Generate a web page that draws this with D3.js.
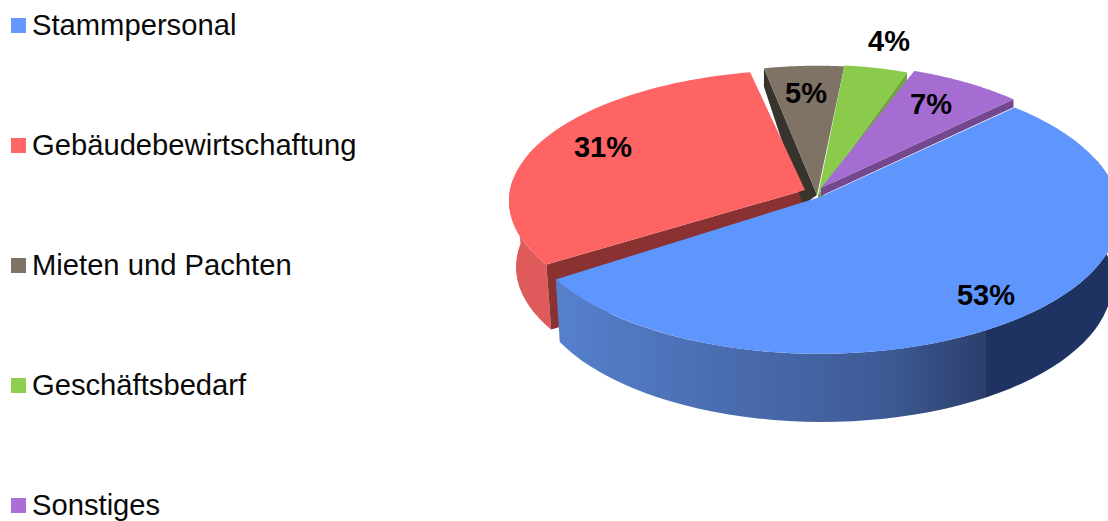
<!DOCTYPE html>
<html><head><meta charset="utf-8">
<script src="https://cdn.jsdelivr.net/npm/d3@7"></script>
<style>html,body{margin:0;padding:0;background:#fff;overflow:hidden}svg{display:block}text{font-family:"Liberation Sans",Arial,sans-serif;fill:#0a0a0a}</style>
</head><body><svg id="c" width="1108" height="521"></svg>
<script>
const categories = ["Stammpersonal","Gebäudebewirtschaftung","Mieten und Pachten","Geschäftsbedarf","Sonstiges"];
const values = [53,31,5,4,7];
const labels = ["53%","31%","5%","4%","7%"];

const topColors  = ["#5f96fd","#ff6464","#7f7365","#8acb4b","#a56dd2"];
const legendColors = ["#6699ff","#ff6666","#7f7365","#8fcf50","#a96fd6"];
const wallColors = ["url(#bw)","#df5b5b","#37332d","#6fa53c","#74488f"];
const faceColors = ["#4f78c8","#8a3232","#37332d","#6fa53c","#74488f"];
// projection of each wedge: apex, radii, perspective, small rotation in degrees
const top3d = [
 {x:820,y:197,rx:297,ry:138,p:.12,rot:-.7},
 {x:805,y:190,rx:295,ry:130,p:.083,rot:0},
 {x:817,y:195,rx:278,ry:140,p:.083,rot:-.3},
 {x:818,y:195,rx:275,ry:141,p:.083,rot:-.4},
 {x:821,y:188,rx:283,ry:135,p:.083,rot:0}];
const bottom3d = [
 {x:822,y:260,rx:287,ry:137,p:.154,rot:0},
 {x:804,y:256,rx:287,ry:130,p:.083,rot:.5},
 {x:803,y:205,rx:205,ry:131,p:.083,rot:-.3},
 {x:818,y:203,rx:275,ry:141,p:.083,rot:-.4},
 {x:821,y:196,rx:283,ry:135,p:.083,rot:0}];
const labelPos = [[986,305],[603,157],[806,103],[889,51],[931,114]];

const svg = d3.select("#c");
const defs = svg.append("defs");
const g = defs.append("linearGradient").attr("id","bw").attr("gradientUnits","userSpaceOnUse")
  .attr("x1",560).attr("x2",1108).attr("y1",0).attr("y2",0);
[[0,"#5580cc"],[.3,"#4a6cb0"],[.6,"#3d5a94"],[.777,"#2c3f6c"],[.777,"#1f3363"],[1,"#1f3363"]]
 .forEach(s=>g.append("stop").attr("offset",s[0]).attr("stop-color",s[1]));

const R = Math.PI/180;
const arcs = d3.pie().sort(null).startAngle(46*R).endAngle(46*R+2*Math.PI)(values);
const pt = (m,a0)=>{const a=a0+m.rot*R,u=Math.sin(a),v=-Math.cos(a),w=1-m.p*v;return [m.x+m.rx*u/w,m.y+m.ry*v/w];};
const line = d3.line();
const samples = (a0,a1)=>d3.range(0,61).map(i=>a0+(a1-a0)*i/60);
const wedge = i=>line([[top3d[i].x,top3d[i].y],...samples(arcs[i].startAngle,arcs[i].endAngle).map(a=>pt(top3d[i],a))])+"Z";
const wall = (i,a0,a1)=>line([...samples(a0,a1).map(a=>pt(top3d[i],a)),...samples(a1,a0).map(a=>pt(bottom3d[i],a))])+"Z";
const face = (i,a)=>line([pt(top3d[i],a),[top3d[i].x,top3d[i].y],[bottom3d[i].x,bottom3d[i].y],pt(bottom3d[i],a)])+"Z";
const path = (d,f)=>svg.append("path").attr("d",d).attr("fill",f);

// red: outer wall and cut face
path(wall(1,arcs[1].startAngle,275*R),wallColors[1]);
path(face(1,arcs[1].startAngle),faceColors[1]);
// brown side face, then tops at the back
path(face(2,arcs[2].startAngle),faceColors[2]);
path(wedge(2),topColors[2]);
path(face(3,arcs[3].endAngle),faceColors[3]);
path(wedge(3),topColors[3]);
path(face(4,arcs[4].endAngle),faceColors[4]);
path(wedge(4),topColors[4]);
path(wedge(1),topColors[1]);
// blue
path(wall(0,75*R,arcs[0].endAngle),wallColors[0]);
path(wedge(0),topColors[0]);

// labels
svg.selectAll("text.v").data(labels).join("text").attr("class","v")
  .attr("x",(d,i)=>labelPos[i][0]).attr("y",(d,i)=>labelPos[i][1])
  .attr("text-anchor","middle").attr("font-size",29).attr("font-weight","bold").style("fill","#000").text(d=>d);

// legend
const ly = d3.scalePoint().domain(categories).range([35,515]);
svg.selectAll("rect.k").data(categories).join("rect").attr("class","k")
  .attr("x",11).attr("y",d=>ly(d)-17).attr("width",15).attr("height",15)
  .attr("fill",(d,i)=>legendColors[i]);
svg.selectAll("text.l").data(categories).join("text").attr("class","l")
  .attr("x",32).attr("y",d=>ly(d)).attr("font-size",29.2).text(d=>d);
</script></body></html>
